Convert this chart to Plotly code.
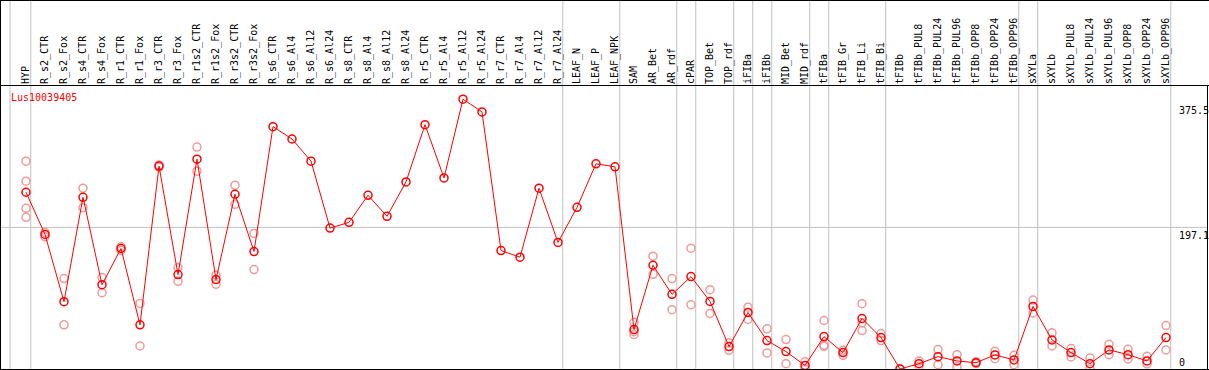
import plotly.graph_objects as go

categories = ["HYP", "R_s2_CTR", "R_s2_Fox", "R_s4_CTR", "R_s4_Fox", "R_r1_CTR", "R_r1_Fox",
              "R_r3_CTR", "R_r3_Fox", "R_r1s2_CTR", "R_r1s2_Fox", "R_r3s2_CTR", "R_r3s2_Fox",
              "R_s6_CTR", "R_s6_Al4", "R_s6_Al12", "R_s6_Al24", "R_s8_CTR", "R_s8_Al4", "R_s8_Al12",
              "R_s8_Al24", "R_r5_CTR", "R_r5_Al4", "R_r5_Al12", "R_r5_Al24", "R_r7_CTR", "R_r7_Al4",
              "R_r7_Al12", "R_r7_Al24", "LEAF_N", "LEAF_P", "LEAF_NPK", "SAM", "AR_Bet", "AR_rdf",
              "cPAR", "TOP_Bet", "TOP_rdf", "iFIBa", "iFIBb", "MID_Bet", "MID_rdf", "tFIBa",
              "tFIB_Gr", "tFIB_Li", "tFIB_Bi", "tFIBb", "tFIBb_PUL8", "tFIBb_PUL24", "tFIBb_PUL96",
              "tFIBb_OPP8", "tFIBb_OPP24", "tFIBb_OPP96", "sXYLa", "sXYLb", "sXYLb_PUL8",
              "sXYLb_PUL24", "sXYLb_PUL96", "sXYLb_OPP8", "sXYLb_OPP24", "sXYLb_OPP96"]

mean_values = [246.0, 187.3, 93.7, 239.0, 117.4, 167.7, 61.5, 282.4, 131.4, 292.1, 124.4, 243.2,
               163.5, 337.3, 320.1, 289.3, 196.1, 204.1, 241.8, 212.5, 260.4, 340.1, 266.0, 375.5,
               357.8, 164.9, 155.6, 251.6, 176.1, 225.0, 285.6, 281.4, 54.9, 144.4, 103.9, 128.6,
               94.1, 31.2, 78.7, 39.6, 24.2, 5.0, 45.1, 22.8, 70.3, 43.8, 0.0, 7.4, 17.2, 11.2,
               8.8, 19.6, 12.6, 87.1, 40.5, 22.8, 7.4, 26.6, 20.0, 11.2, 43.8]

replicates = [
    [289.3, 261.4, 223.6, 211.1], [190, 184], [125.8, 61.5], [251.6, 224.5], [127.2, 106.2],
    [170, 165], [91.3, 32.1], [284, 281], [141.2, 122.0], [308.9, 275.4], [130.8, 117.8],
    [255.8, 229.2], [188.7, 138.4],
    [], [], [], [], [], [], [], [], [], [], [], [], [], [], [], [], [], [], [],
    [65, 48, 52], [157.0, 131.8], [125.8, 82.5], [168.2, 89.5], [110.4, 77.3], [36.3, 26.0],
    [86.1, 68.9], [55.9, 22.4], [41.0, 7.4], [10, 0], [67.5, 33.0, 31.6], [26, 19],
    [90.9, 53.5, 64.3], [49.3, 39.6], [0, 0], [11, 4], [27.0, 6.0], [20, 3], [10, 7.5],
    [24.6, 14.4], [19.0, 6.0], [96, 78], [50.3, 32.1], [28.4, 16.8], [15.4, 0], [34.4, 20.0],
    [27.4, 14.0], [17.6, 7.0], [60.5, 26.6]]

gene_label = "Lus10039405"
axis_labels = [375.5, 197.1, 0]
grid_value = 197.1
separators = [-0.84, 0.25, 28.25, 31.25, 34.25, 35.25, 37.25, 38.25, 39.25, 41.25, 42.25,
              45.25, 52.25, 53.25, 60.25]

# geometry (pixels)
W_FIG, H_FIG = 1209, 370
L, R, T, B = 1, 1, 85, 1
PW = W_FIG - L - R
PH = H_FIG - T - B
x0r = -25 / 19
x1r = x0r + PW / 19
y_range = [0, PH / 0.7185]

def xp(px):
    return (px - L) / PW

def yp(py):
    return (H_FIG - B - py) / PH

def xdata_to_paper(x):
    return (x - x0r) / (x1r - x0r)

xi = list(range(len(categories)))
rx, ry = [], []
for i, reps in enumerate(replicates):
    for v in reps:
        rx.append(i)
        ry.append(v)

fig = go.Figure()
fig.add_trace(go.Scatter(x=rx, y=ry, mode="markers",
                         marker=dict(symbol="circle-open", size=8, color="#f09a9a",
                                     line=dict(width=1.5, color="#f09a9a")),
                         hoverinfo="skip", showlegend=False))
fig.add_trace(go.Scatter(x=xi, y=mean_values, mode="lines+markers",
                         line=dict(color="#ff0000", width=1),
                         marker=dict(symbol="circle-open", size=8, color="#ff0000",
                                     line=dict(width=1.5, color="#ff0000")),
                         showlegend=False))

shapes = []
gray = "#c0c0c0"
for s in separators:
    xpp = xdata_to_paper(s)
    shapes.append(dict(type="line", xref="paper", yref="paper", x0=xpp, x1=xpp,
                       y0=yp(0), y1=yp(H_FIG), line=dict(color=gray, width=1), layer="below"))
shapes.append(dict(type="line", xref="paper", yref="y", x0=xp(0), x1=xp(1207),
                   y0=grid_value, y1=grid_value, line=dict(color=gray, width=1), layer="below"))
black = "#000000"
frame = [
    (0.5, 0, 0.5, H_FIG),
    (0, 0.5, W_FIG, 0.5),
    (0, 85.5, W_FIG, 85.5),
    (0, 369.5, W_FIG, 369.5),
    (1207.5, 85, 1207.5, H_FIG),
]
for (ax0, ay0, ax1, ay1) in frame:
    shapes.append(dict(type="line", xref="paper", yref="paper", x0=xp(ax0), x1=xp(ax1),
                       y0=yp(ay0), y1=yp(ay1), line=dict(color=black, width=1), layer="above"))

mono = "DejaVu Sans Mono"
annotations = [dict(text=gene_label, xref="paper", yref="paper", x=xp(8.5), y=yp(97),
                    xanchor="left", yanchor="middle", showarrow=False,
                    font=dict(family=mono, size=10, color="#ff0000"))]
shifts = {375.5: -4, 197.1: -1, 0: -1}
for v in axis_labels:
    annotations.append(dict(text=str(v) if v != 0 else "0", xref="paper", yref="y",
                            x=xp(1177), y=v, xanchor="left",
                            yanchor="bottom" if v == 0 else "top", yshift=shifts[v],
                            showarrow=False, font=dict(family=mono, size=10, color="#000000")))

fig.update_layout(
    width=W_FIG, height=H_FIG,
    margin=dict(l=L, r=R, t=T, b=B, pad=0),
    paper_bgcolor="white", plot_bgcolor="white",
    shapes=shapes, annotations=annotations,
    font=dict(family=mono, size=10, color="#000000"),
    xaxis=dict(range=[x0r, x1r], tickmode="array", tickvals=xi, ticktext=categories,
               side="top", tickangle=-90, showgrid=False, zeroline=False, ticks="",
               showline=False, tickfont=dict(family=mono, size=10, color="#000000"),
               fixedrange=True),
    yaxis=dict(range=y_range, showgrid=False, zeroline=False, showticklabels=False,
               ticks="", showline=False, fixedrange=True),
    showlegend=False,
)

fig.write_html("out.html", config={"displayModeBar": False},
               post_script="document.body.style.margin='0';document.body.style.padding='0';")
